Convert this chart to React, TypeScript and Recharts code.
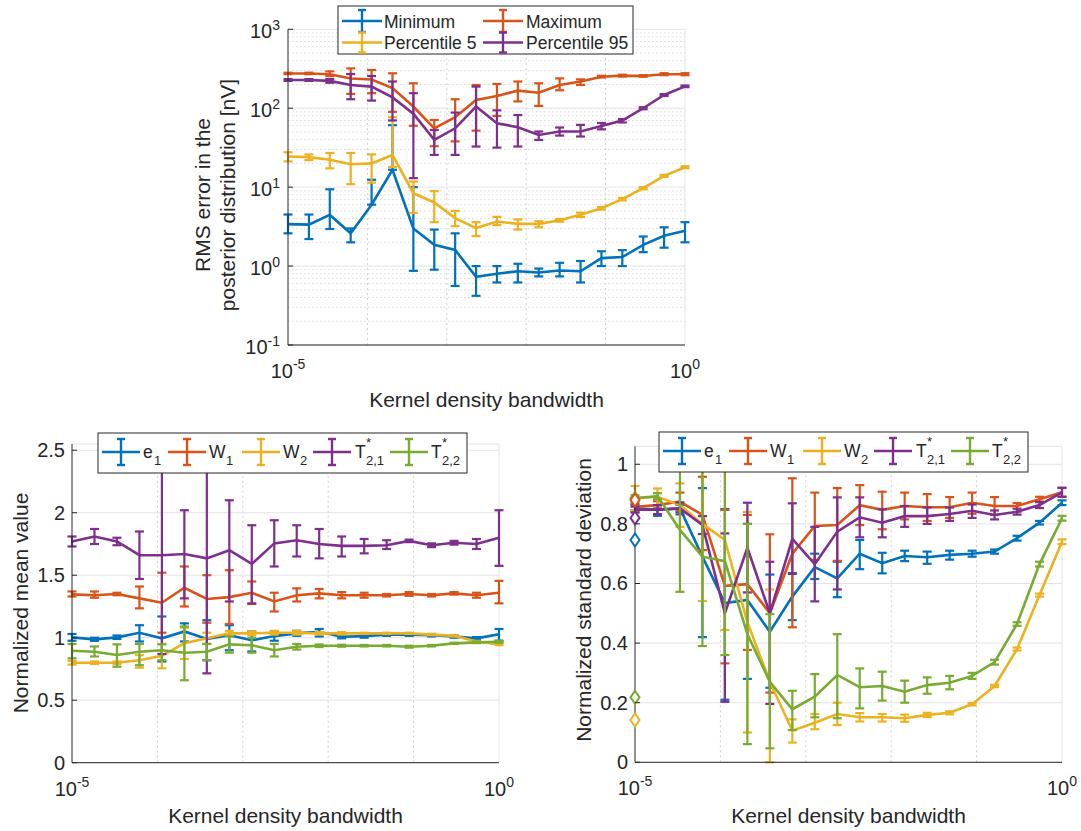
import React from "react";
import { ComposedChart, Line, XAxis, YAxis, CartesianGrid, ReferenceLine, ErrorBar } from "recharts";

// kernel density bandwidths (20 log-spaced values)
const BANDWIDTH = [1e-5, 1.833e-5, 3.36e-5, 6.158e-5, 1.129e-4, 2.069e-4, 3.793e-4, 6.952e-4, 1.274e-3, 2.336e-3, 4.281e-3, 7.848e-3, 1.438e-2, 2.637e-2, 4.833e-2, 8.859e-2, 0.1624, 0.2976, 0.5456, 1];
const DECADES = [1e-5, 1e-4, 1e-3, 1e-2, 1e-1, 1];

// --- RMS error in the posterior distribution [nV] (null = lower whisker not drawn) ---
const MIN_VAL = [3.4, 3.35, 4.45, 2.6, 6.0, 16.6, 3.0, 1.86, 1.6, 0.73, 0.8, 0.86, 0.83, 0.88, 0.86, 1.26, 1.3, 1.86, 2.42, 2.8];
const MIN_LO = [2.6, 2.2, 2.95, 2.0, null, null, 0.87, 0.9, 0.56, 0.42, 0.62, 0.62, 0.74, 0.74, 0.62, 1.0, 1.0, 1.5, 1.71, 2.0];
const MIN_HI = [4.5, 4.5, 9.4, 3.0, 12.4, 61, 10, 2.9, 2.6, 1.0, 1.0, 1.07, 0.93, 1.1, 1.16, 1.54, 1.59, 2.37, 3.1, 3.6];

const MAX_VAL = [276, 276, 270, 238, 231, 180, 105, 55.7, 77, 127, 143, 167, 157, 197, 218, 251, 259, 256, 270, 270];
const MAX_LO = [270, 270, 255, 152, 155, 90, 60, 33, 38, 52, 80, 122, 107, 169, 197, 245, 252, 250, 262, 262];
const MAX_HI = [282, 282, 293, 320, 305, 277, 207, 71, 130, 197, 203, 218, 207, 239, 232, 258, 266, 263, 278, 278];

const P5_VAL = [24.4, 24, 22.2, 19.5, 20, 25.6, 8.4, 6.4, 4.05, 3.03, 3.67, 3.43, 3.43, 3.8, 4.46, 5.4, 7.05, 9.7, 13.9, 17.9];
const P5_LO = [21.2, 22, 17.3, 10.9, 11.4, 18, 4.7, 3.6, 3.2, 2.4, 3.3, 2.9, 3.1, 3.65, 4.2, 5.2, 6.8, 9.4, 13.5, 17.4];
const P5_HI = [27.7, 26, 27.1, 27.1, 26, 77, 11.8, 8.9, 5.0, 3.6, 4.2, 3.9, 3.7, 3.95, 4.75, 5.6, 7.3, 10, 14.3, 18.4];

const P95_VAL = [228, 228, 222, 197, 188, 137, 85, 39.7, 55.7, 105, 64.6, 57.5, 45.9, 50.7, 50.7, 59.7, 69.7, 100, 147, 189];
const P95_LO = [222, 222, 210, 130, 125, 70, 13, 25.6, 25.6, 32.7, 31.7, 32.7, 39.7, 45, 43.8, 54, 66, 97, 143, 185];
const P95_HI = [234, 234, 234, 271, 256, 218, 155, 53, 88, 188, 94, 82, 50.7, 57, 61.5, 65, 73, 103, 151, 194];

// --- normalized mean value ---
const MEAN_E1_VAL = [1.003, 0.987, 1.003, 1.04, 0.995, 1.05, 0.99, 1.02, 0.98, 1.013, 1.035, 1.048, 1.008, 1.013, 1.025, 1.025, 1.02, 1.01, 0.995, 1.027];
const MEAN_E1_LO = [0.976, 0.975, 0.99, 0.97, 0.81, 0.97, 0.82, 0.9, 0.89, 0.976, 1.015, 1.01, 0.995, 1.0, 1.015, 1.015, 1.01, 1.0, 0.985, 0.976];
const MEAN_E1_HI = [1.03, 1.0, 1.018, 1.1, 1.17, 1.115, 1.14, 1.1, 1.05, 1.05, 1.055, 1.07, 1.02, 1.025, 1.035, 1.035, 1.03, 1.02, 1.005, 1.07];

const MEAN_W1_VAL = [1.347, 1.34, 1.35, 1.315, 1.28, 1.4, 1.31, 1.325, 1.36, 1.29, 1.34, 1.355, 1.34, 1.34, 1.34, 1.35, 1.34, 1.355, 1.34, 1.36];
const MEAN_W1_LO = [1.33, 1.32, 1.34, 1.235, 1.04, 1.25, 1.12, 1.11, 1.27, 1.21, 1.29, 1.315, 1.315, 1.32, 1.33, 1.335, 1.33, 1.345, 1.32, 1.275];
const MEAN_W1_HI = [1.37, 1.37, 1.36, 1.41, 1.52, 1.57, 1.5, 1.54, 1.45, 1.36, 1.395, 1.39, 1.365, 1.36, 1.35, 1.365, 1.35, 1.365, 1.36, 1.455];

const MEAN_W2_VAL = [0.8, 0.8, 0.8, 0.82, 0.855, 0.955, 0.995, 1.035, 1.035, 1.04, 1.04, 1.035, 1.035, 1.035, 1.035, 1.035, 1.025, 1.015, 0.97, 0.947];
const MEAN_W2_LO = [0.785, 0.79, 0.79, 0.76, 0.755, 0.83, 0.95, 1.015, 1.02, 1.025, 1.025, 1.025, 1.025, 1.03, 1.03, 1.03, 1.02, 1.01, 0.965, 0.94];
const MEAN_W2_HI = [0.815, 0.81, 0.81, 0.86, 0.95, 1.08, 1.04, 1.055, 1.05, 1.055, 1.055, 1.045, 1.045, 1.04, 1.04, 1.04, 1.03, 1.02, 0.975, 0.955];

const MEAN_T21_VAL = [1.77, 1.81, 1.77, 1.66, 1.66, 1.67, 1.635, 1.7, 1.59, 1.755, 1.78, 1.75, 1.735, 1.735, 1.74, 1.775, 1.74, 1.76, 1.75, 1.8];
const MEAN_T21_LO = [1.73, 1.75, 1.74, 1.47, 0.87, 1.315, 0.715, 1.29, 1.275, 1.57, 1.65, 1.635, 1.65, 1.675, 1.71, 1.765, 1.725, 1.745, 1.71, 1.575];
const MEAN_T21_HI = [1.81, 1.87, 1.8, 1.85, 2.45, 2.02, 2.55, 2.1, 1.9, 1.94, 1.9, 1.87, 1.81, 1.79, 1.78, 1.785, 1.755, 1.775, 1.79, 2.02];

const MEAN_T22_VAL = [0.896, 0.888, 0.862, 0.888, 0.9, 0.88, 0.888, 0.947, 0.94, 0.9, 0.928, 0.936, 0.936, 0.936, 0.936, 0.928, 0.936, 0.955, 0.963, 0.968];
const MEAN_T22_LO = [0.835, 0.85, 0.768, 0.78, 0.82, 0.66, 0.82, 0.88, 0.88, 0.85, 0.905, 0.926, 0.928, 0.93, 0.93, 0.92, 0.93, 0.95, 0.957, 0.96];
const MEAN_T22_HI = [0.95, 0.93, 0.947, 0.95, 0.947, 1.09, 0.95, 1.01, 1.0, 0.95, 0.95, 0.946, 0.944, 0.942, 0.942, 0.936, 0.942, 0.96, 0.969, 0.976];

// --- normalized standard deviation ---
const SD_E1_VAL = [0.852, 0.847, 0.852, 0.69, 0.534, 0.545, 0.438, 0.556, 0.655, 0.617, 0.7, 0.668, 0.692, 0.688, 0.696, 0.7, 0.707, 0.752, 0.804, 0.871];
const SD_E1_LO = [0.84, 0.827, 0.84, 0.42, 0.21, 0.28, 0.25, 0.477, 0.615, 0.554, 0.648, 0.634, 0.675, 0.666, 0.68, 0.69, 0.7, 0.744, 0.798, 0.863];
const SD_E1_HI = [0.864, 0.858, 0.864, 0.92, 0.85, 0.8, 0.63, 0.635, 0.7, 0.673, 0.746, 0.703, 0.71, 0.707, 0.71, 0.71, 0.714, 0.76, 0.81, 0.879];

const SD_W1_VAL = [0.857, 0.863, 0.875, 0.83, 0.592, 0.598, 0.5, 0.7, 0.793, 0.796, 0.863, 0.847, 0.86, 0.856, 0.856, 0.871, 0.86, 0.86, 0.883, 0.906];
const SD_W1_LO = [0.845, 0.85, 0.845, 0.712, 0.332, 0.377, 0.234, 0.453, 0.679, 0.676, 0.796, 0.782, 0.815, 0.81, 0.82, 0.834, 0.83, 0.84, 0.875, 0.891];
const SD_W1_HI = [0.869, 0.876, 0.905, 0.958, 0.847, 0.83, 0.765, 0.953, 0.905, 0.92, 0.93, 0.908, 0.905, 0.9, 0.89, 0.905, 0.89, 0.87, 0.891, 0.921];

const SD_W2_VAL = [0.886, 0.891, 0.863, 0.8, 0.746, 0.47, 0.27, 0.106, 0.133, 0.162, 0.151, 0.151, 0.148, 0.159, 0.166, 0.195, 0.256, 0.38, 0.561, 0.74];
const SD_W2_LO = [0.845, 0.86, 0.79, 0.541, 0.444, 0.1, 0, 0.066, 0.111, 0.125, 0.137, 0.137, 0.136, 0.152, 0.161, 0.191, 0.252, 0.375, 0.556, 0.732];
const SD_W2_HI = [0.927, 0.919, 0.936, 1.06, 1.05, 0.84, 0.58, 0.144, 0.162, 0.2, 0.165, 0.162, 0.16, 0.166, 0.171, 0.199, 0.26, 0.385, 0.566, 0.748];

const SD_T21_VAL = [0.848, 0.848, 0.852, 0.796, 0.5, 0.72, 0.5, 0.75, 0.665, 0.774, 0.822, 0.804, 0.826, 0.826, 0.833, 0.844, 0.83, 0.841, 0.863, 0.906];
const SD_T21_LO = [0.838, 0.833, 0.832, 0.766, 0.203, 0.57, 0.196, 0.632, 0.54, 0.58, 0.755, 0.755, 0.79, 0.8, 0.81, 0.82, 0.815, 0.831, 0.853, 0.891];
const SD_T21_HI = [0.858, 0.863, 0.872, 0.826, 0.768, 0.871, 0.673, 0.869, 0.79, 0.889, 0.889, 0.849, 0.86, 0.855, 0.855, 0.865, 0.845, 0.851, 0.873, 0.921];

const SD_T22_VAL = [0.886, 0.893, 0.78, 0.69, 0.675, 0.43, 0.27, 0.178, 0.22, 0.293, 0.252, 0.256, 0.237, 0.259, 0.267, 0.29, 0.336, 0.464, 0.665, 0.819];
const SD_T22_LO = [0.876, 0.883, 0.572, 0.39, 0.36, 0.061, 0.047, 0.108, 0.151, 0.148, 0.181, 0.207, 0.2, 0.23, 0.245, 0.28, 0.328, 0.458, 0.657, 0.811];
const SD_T22_HI = [0.896, 0.903, 0.99, 0.99, 0.99, 0.8, 0.497, 0.24, 0.296, 0.43, 0.315, 0.304, 0.274, 0.285, 0.29, 0.3, 0.344, 0.47, 0.673, 0.827];

// reference values marked with diamonds at the smallest bandwidth
const REF_VALUES = [0.885, 0.746, 0.88, 0.82, 0.218, 0.142];

const BLUE = "#0072BD";
const ORANGE = "#D95319";
const YELLOW = "#EDB120";
const PURPLE = "#7E2F8E";
const GREEN = "#77AC30";
const REF_COLORS = [GREEN, BLUE, ORANGE, PURPLE, GREEN, YELLOW];

const INK = "#262626";
const GRID = "#e3e3e3";
const FONT = '"Liberation Sans", Arial, Helvetica, sans-serif';

type Series = { key: string; color: string; val: number[]; lo: (number | null)[]; hi: number[] };

const TOP_SERIES: Series[] = [
  { key: "min", color: BLUE, val: MIN_VAL, lo: MIN_LO, hi: MIN_HI },
  { key: "max", color: ORANGE, val: MAX_VAL, lo: MAX_LO, hi: MAX_HI },
  { key: "p5", color: YELLOW, val: P5_VAL, lo: P5_LO, hi: P5_HI },
  { key: "p95", color: PURPLE, val: P95_VAL, lo: P95_LO, hi: P95_HI },
];

const MEAN_SERIES: Series[] = [
  { key: "e1", color: BLUE, val: MEAN_E1_VAL, lo: MEAN_E1_LO, hi: MEAN_E1_HI },
  { key: "w1", color: ORANGE, val: MEAN_W1_VAL, lo: MEAN_W1_LO, hi: MEAN_W1_HI },
  { key: "w2", color: YELLOW, val: MEAN_W2_VAL, lo: MEAN_W2_LO, hi: MEAN_W2_HI },
  { key: "t21", color: PURPLE, val: MEAN_T21_VAL, lo: MEAN_T21_LO, hi: MEAN_T21_HI },
  { key: "t22", color: GREEN, val: MEAN_T22_VAL, lo: MEAN_T22_LO, hi: MEAN_T22_HI },
];

const SD_SERIES: Series[] = [
  { key: "e1", color: BLUE, val: SD_E1_VAL, lo: SD_E1_LO, hi: SD_E1_HI },
  { key: "w1", color: ORANGE, val: SD_W1_VAL, lo: SD_W1_LO, hi: SD_W1_HI },
  { key: "w2", color: YELLOW, val: SD_W2_VAL, lo: SD_W2_LO, hi: SD_W2_HI },
  { key: "t21", color: PURPLE, val: SD_T21_VAL, lo: SD_T21_LO, hi: SD_T21_HI },
  { key: "t22", color: GREEN, val: SD_T22_VAL, lo: SD_T22_LO, hi: SD_T22_HI },
];

// rows keyed by bandwidth; error bars stored as [down, up] offsets
function buildRows(series: Series[]) {
  return BANDWIDTH.map((x, i) => {
    const row: any = { x };
    series.forEach((s) => {
      const v = s.val[i];
      const lo = s.lo[i] == null ? v : (s.lo[i] as number);
      row[s.key] = v;
      row[s.key + "Err"] = [Math.max(0, v - lo), Math.max(0, s.hi[i] - v)];
    });
    return row;
  });
}

const topRows = buildRows(TOP_SERIES);
const meanRows = buildRows(MEAN_SERIES);
const sdRows = buildRows(SD_SERIES);
REF_VALUES.forEach((v, i) => {
  sdRows[0]["ref" + i] = v;
});

const RMS_MINOR = [0.1, 1, 10, 100].flatMap((d) => [2, 3, 4, 5, 6, 7, 8, 9].map((m) => m * d));

const seriesLines = (list: Series[]) =>
  list.map((s) => (
    <Line key={s.key} type="linear" dataKey={s.key} stroke={s.color} strokeWidth={2.6} dot={false} activeDot={false} isAnimationActive={false}>
      <ErrorBar dataKey={s.key + "Err"} direction="y" width={4.5} stroke={s.color} strokeWidth={2.2} isAnimationActive={false} />
    </Line>
  ));

const decadeLines = () => [
  ...DECADES.slice(1, 5).map((d) => (
    <ReferenceLine key={"v" + d} x={d} stroke="#cfcfcf" strokeDasharray="2 3" strokeWidth={1} />
  )),
  <ReferenceLine key="vr" x={1} stroke={GRID} strokeWidth={1} />,
];

const PowXTick = (props: any) => {
  const { x, y, payload } = props;
  const v = payload.value;
  if (v !== 1e-5 && v !== 1) return <g />;
  const exp = Math.round(Math.log10(v));
  return (
    <text x={x} y={y + 33} textAnchor="middle" fill={INK} fontSize={20} fontFamily={FONT}>
      10<tspan dy={-9} fontSize={14}>{exp === 0 ? "0" : "-" + Math.abs(exp)}</tspan>
    </text>
  );
};

const PowYTick = (props: any) => {
  const { x, y, payload } = props;
  const exp = Math.round(Math.log10(payload.value));
  return (
    <g>
      <line x1={x + 8} x2={x + 13} y1={y} y2={y} stroke={INK} strokeWidth={1} />
      <text x={x} y={y + 9} textAnchor="end" fill={INK} fontSize={20} fontFamily={FONT}>
        10<tspan dy={-8} fontSize={14}>{exp < 0 ? "-" + Math.abs(exp) : String(exp)}</tspan>
      </text>
    </g>
  );
};

const LinYTick = (props: any) => {
  const { x, y, payload } = props;
  return (
    <g>
      <line x1={x + 7} x2={x + 12} y1={y} y2={y} stroke={INK} strokeWidth={1} />
      <text x={x} y={y + 7} textAnchor="end" fill={INK} fontSize={20} fontFamily={FONT}>
        {String(payload.value)}
      </text>
    </g>
  );
};

const diamondDot = (color: string, key: string) => (props: any) => {
  const { cx, cy, payload, index } = props;
  if (cx == null || cy == null || payload == null || payload[key] == null) return <g key={key + index} />;
  return (
    <path
      key={key + index}
      d={`M${cx},${cy - 6.5} L${cx + 4.5},${cy} L${cx},${cy + 6.5} L${cx - 4.5},${cy} Z`}
      fill="#fff"
      stroke={color}
      strokeWidth={2}
    />
  );
};

const axisLine = { stroke: INK, strokeWidth: 1 };

function LegendIcon({ x, cy, w, h, color }: { x: number; cy: number; w: number; h: number; color: string }) {
  const mid = x + w / 2;
  return (
    <g stroke={color} strokeWidth={2.4}>
      <line x1={x} x2={x + w} y1={cy} y2={cy} />
      <line x1={mid} x2={mid} y1={cy - h} y2={cy + h} />
      <line x1={mid - 4} x2={mid + 4} y1={cy - h} y2={cy - h} />
      <line x1={mid - 4} x2={mid + 4} y1={cy + h} y2={cy + h} />
    </g>
  );
}

// five-entry legend of the lower panels, dx shifts it horizontally
function SubLegend({ dx, dy }: { dx: number; dy: number }) {
  const cy = 452 + dy;
  const base = cy + 5.5;
  const icons = [102, 168, 242, 313, 390];
  const colors = [BLUE, ORANGE, YELLOW, PURPLE, GREEN];
  const tx = [143, 209, 283, 355, 431].map((t) => t + dx);
  return (
    <g fontFamily={FONT} fill={INK}>
      <rect x={98 + dx} y={433 + dy} width={369} height={40} fill="#fff" stroke={INK} strokeWidth={1} />
      {icons.map((ix, i) => (
        <LegendIcon key={i} x={ix + dx} cy={cy} w={38} h={13} color={colors[i]} />
      ))}
      <text x={tx[0]} y={base} fontSize={17.5}>e</text>
      <text x={tx[0] + 11} y={base + 7} fontSize={13}>1</text>
      <text x={tx[1]} y={base} fontSize={17.5}>W</text>
      <text x={tx[1] + 17} y={base + 7} fontSize={13}>1</text>
      <text x={tx[2]} y={base} fontSize={17.5}>W</text>
      <text x={tx[2] + 17} y={base + 7} fontSize={13}>2</text>
      <text x={tx[3]} y={base} fontSize={17.5}>T</text>
      <text x={tx[3] + 11} y={base - 11} fontSize={13}>*</text>
      <text x={tx[3] + 11} y={base + 7} fontSize={13}>2,1</text>
      <text x={tx[4]} y={base} fontSize={17.5}>T</text>
      <text x={tx[4] + 11} y={base - 11} fontSize={13}>*</text>
      <text x={tx[4] + 11} y={base + 7} fontSize={13}>2,2</text>
    </g>
  );
}

function Overlay() {
  const titleStyle = { fontFamily: FONT, fontSize: 21, fill: INK } as const;
  return (
    <svg width={1081} height={831} style={{ position: "absolute", left: 0, top: 0, pointerEvents: "none" }}>
      {/* top panel legend */}
      <g fontFamily={FONT} fill={INK} fontSize={17.5}>
        <rect x={338} y={6} width={295} height={48} fill="#fff" stroke={INK} strokeWidth={1} />
        <LegendIcon x={342} cy={21} w={40} h={11} color={BLUE} />
        <text x={384} y={27.5}>Minimum</text>
        <LegendIcon x={483} cy={21} w={40} h={11} color={ORANGE} />
        <text x={526} y={27.5}>Maximum</text>
        <LegendIcon x={342} cy={42.5} w={40} h={10} color={YELLOW} />
        <text x={384} y={49}>Percentile 5</text>
        <LegendIcon x={483} cy={42.5} w={40} h={10} color={PURPLE} />
        <text x={526} y={49}>Percentile 95</text>
      </g>
      <SubLegend dx={0} dy={0} />
      <SubLegend dx={561} dy={-1} />

      {/* axis titles */}
      <text x={486.5} y={407} textAnchor="middle" {...titleStyle}>Kernel density bandwidth</text>
      <text x={285.5} y={823} textAnchor="middle" {...titleStyle}>Kernel density bandwidth</text>
      <text x={848.5} y={823} textAnchor="middle" {...titleStyle}>Kernel density bandwidth</text>
      <text transform="rotate(-90 203 195)" x={203} y={195} dy={7} textAnchor="middle" {...titleStyle}>RMS error in the</text>
      <text transform="rotate(-90 228 195)" x={228} y={195} dy={7} textAnchor="middle" {...titleStyle}>posterior distribution [nV]</text>
      <text transform="rotate(-90 21 603)" x={21} y={603} dy={7} textAnchor="middle" {...titleStyle}>Normalized mean value</text>
      <text transform="rotate(-90 584 600)" x={584} y={600} dy={7} textAnchor="middle" {...titleStyle}>Normalized standard deviation</text>
    </svg>
  );
}

export default function App() {
  return (
    <div style={{ position: "absolute", left: 0, top: 0, width: 1081, height: 831, background: "#fff" }}>
      {/* RMS error panel */}
      <div style={{ position: "absolute", left: 200, top: 0 }}>
        <ComposedChart width={520} height={420} data={topRows} margin={{ top: 29.3, right: 35, bottom: 0, left: 0 }}>
          <CartesianGrid vertical={false} stroke={GRID} />
          {RMS_MINOR.map((v) => (
            <ReferenceLine key={"h" + v} y={v} stroke="#dadada" strokeDasharray="1.5 2.5" strokeWidth={1} />
          ))}
          {decadeLines()}
          <XAxis dataKey="x" type="number" scale="log" domain={[1e-5, 1]} ticks={DECADES} interval={0}
            height={75} axisLine={axisLine} tickLine={false} tickSize={0} tickMargin={0} tick={PowXTick} />
          <YAxis type="number" scale="log" domain={[0.1, 1000]} ticks={[0.1, 1, 10, 100, 1000]} interval={0}
            width={88} axisLine={axisLine} tickLine={false} tickSize={0} tickMargin={8} tick={PowYTick} />
          {seriesLines(TOP_SERIES)}
        </ComposedChart>
      </div>

      {/* normalized mean panel */}
      <div style={{ position: "absolute", left: 0, top: 420 }}>
        <ComposedChart width={540} height={411} data={meanRows} margin={{ top: 24, right: 41, bottom: 0, left: 0 }}>
          <CartesianGrid vertical={false} stroke={GRID} />
          {decadeLines()}
          <XAxis dataKey="x" type="number" scale="log" domain={[1e-5, 1]} ticks={DECADES} interval={0}
            height={68.3} axisLine={axisLine} tickLine={false} tickSize={0} tickMargin={0} tick={PowXTick} />
          <YAxis type="number" domain={[0, 2.55]} ticks={[0, 0.5, 1, 1.5, 2, 2.5]} interval={0}
            width={72} axisLine={axisLine} tickLine={false} tickSize={0} tickMargin={7} tick={LinYTick} />
          {seriesLines(MEAN_SERIES)}
        </ComposedChart>
      </div>

      {/* normalized standard deviation panel */}
      <div style={{ position: "absolute", left: 560, top: 420 }}>
        <ComposedChart width={521} height={411} data={sdRows} margin={{ top: 26.4, right: 19, bottom: 0, left: 0 }}>
          <CartesianGrid vertical={false} stroke={GRID} />
          {decadeLines()}
          <XAxis dataKey="x" type="number" scale="log" domain={[1e-5, 1]} ticks={DECADES} interval={0}
            height={68.7} axisLine={axisLine} tickLine={false} tickSize={0} tickMargin={0} tick={PowXTick} />
          <YAxis type="number" domain={[0, 1.06]} ticks={[0, 0.2, 0.4, 0.6, 0.8, 1]} interval={0}
            width={75} axisLine={axisLine} tickLine={false} tickSize={0} tickMargin={7} tick={LinYTick} />
          {seriesLines(SD_SERIES)}
          {REF_VALUES.map((_, i) => (
            <Line key={"ref" + i} dataKey={"ref" + i} stroke="none" activeDot={false} isAnimationActive={false}
              dot={diamondDot(REF_COLORS[i], "ref" + i)} />
          ))}
        </ComposedChart>
      </div>

      <Overlay />
    </div>
  );
}
